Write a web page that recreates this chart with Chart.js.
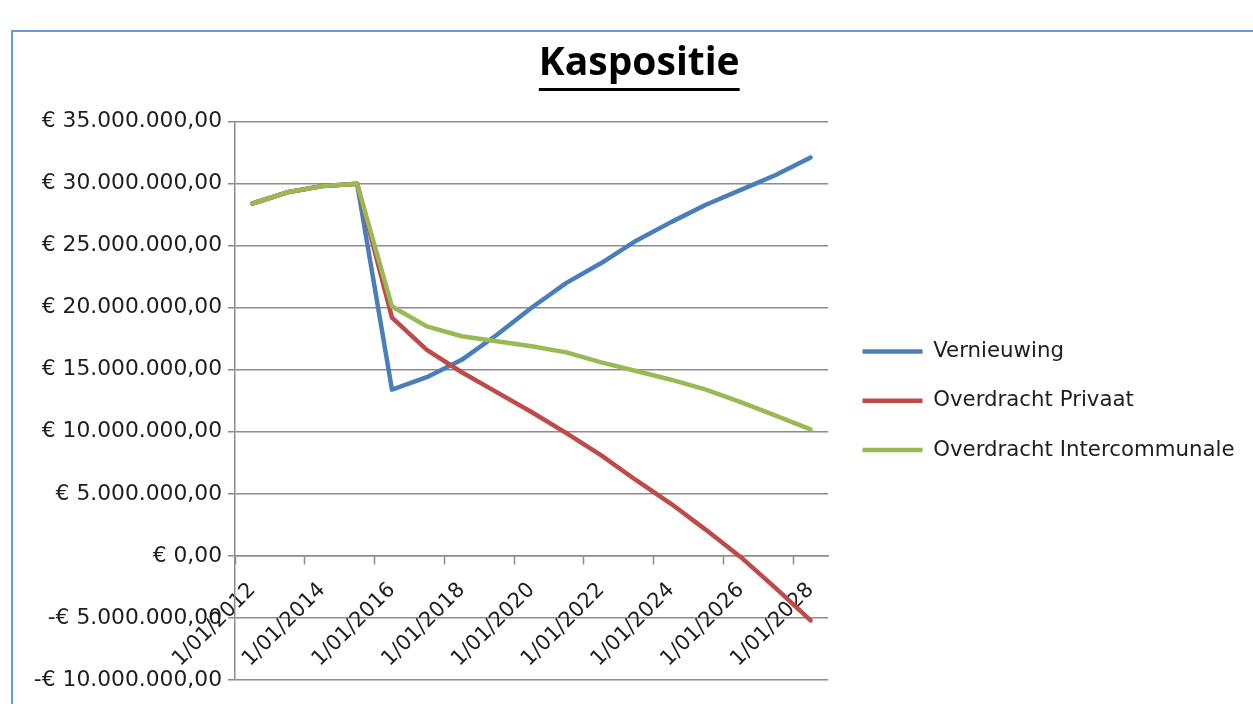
<!DOCTYPE html>
<html>
<head>
<meta charset="utf-8">
<script src="https://cdn.jsdelivr.net/npm/chart.js@4.4.1/dist/chart.umd.min.js"></script>
<style>
  html, body { margin: 0; padding: 0; background: #fff; }
  #wrap { width: 1253px; height: 704px; }
</style>
</head>
<body>
<div id="wrap"><canvas id="kasChart"></canvas></div>
<script>
const titel = 'Kaspositie';
const years = [2012, 2013, 2014, 2015, 2016, 2017, 2018, 2019, 2020, 2021, 2022, 2023, 2024, 2025, 2026, 2027, 2028];
const categories = years.map(y => '1/01/' + y);

// kaspositie in euro per jaar
const vernieuwing    = [28400000, 29300000, 29800000, 30000000, 13400000, 14400000, 15800000, 17800000, 20000000, 22000000, 23600000, 25400000, 26900000, 28300000, 29500000, 30700000, 32100000];
const privaat        = [28400000, 29300000, 29800000, 30000000, 19200000, 16600000, 14800000, 13200000, 11600000, 9900000, 8100000, 6100000, 4200000, 2100000, -100000, -2600000, -5200000];
const intercommunale = [28400000, 29300000, 29800000, 30000000, 20100000, 18500000, 17700000, 17300000, 16900000, 16400000, 15600000, 14900000, 14200000, 13400000, 12400000, 11300000, 10200000];

const yMin = -10000000;
const yMax = 35000000;
const yStep = 5000000;

const grey = '#8c8c8c';
const font = '"DejaVu Sans", "Open Sans", sans-serif';
const titleFont = '"Open Sans", "Noto Sans", sans-serif';

function euro(v) {
    const s = String(Math.abs(Math.round(v))).replace(/\B(?=(\d{3})+(?!\d))/g, '.');
    return (v < 0 ? '-' : '') + '€ ' + s + ',00';
}

// blauwe rand links en boven, zoals in excel
const frame = {
    id: 'frame',
    beforeDraw(chart) {
        const ctx = chart.ctx;
        ctx.save();
        ctx.strokeStyle = '#7299d3';
        ctx.lineWidth = 2;
        ctx.beginPath();
        ctx.moveTo(12, 704);
        ctx.lineTo(12, 31);
        ctx.lineTo(1253, 31);
        ctx.stroke();
        ctx.restore();
    }
};

// chart.js kent geen onderstreepte titel
const underline = {
    id: 'underline',
    afterDraw(chart) {
        const tb = chart.titleBlock;
        const ctx = chart.ctx;
        ctx.save();
        ctx.font = 'bold 39px ' + titleFont;
        const w = ctx.measureText(titel).width;
        const cx = (tb.left + tb.right) / 2;
        const y = tb.top + 40 + 46.8 / 2 + 26;
        ctx.strokeStyle = '#000';
        ctx.lineWidth = 3;
        ctx.beginPath();
        ctx.moveTo(cx - w / 2, y);
        ctx.lineTo(cx + w / 2, y);
        ctx.stroke();
        ctx.restore();
    }
};

const line = (label, data, color, order) => ({
    label: label,
    data: data,
    borderColor: color,
    backgroundColor: color,
    borderWidth: 4.5,
    borderCapStyle: 'round',
    borderJoinStyle: 'round',
    pointRadius: 0,
    tension: 0,
    order: order
});

new Chart(document.getElementById('kasChart'), {
    type: 'line',
    data: {
        labels: categories,
        datasets: [
            line('Vernieuwing', vernieuwing, '#4a7ebb', 3),
            line('Overdracht Privaat', privaat, '#be4b48', 2),
            line('Overdracht Intercommunale', intercommunale, '#98b954', 1)
        ]
    },
    options: {
        responsive: true,
        maintainAspectRatio: false,
        animation: false,
        events: [],
        layout: { padding: { left: 34, right: 8.5, top: 0, bottom: 24 } },
        plugins: {
            title: {
                display: true,
                text: titel,
                color: '#000',
                font: { family: titleFont, size: 39, weight: 'bold' },
                padding: { top: 40, bottom: 34.8 }
            },
            legend: {
                position: 'right',
                fullSize: false,
                maxWidth: 500,
                labels: {
                    color: '#1e1e1e',
                    font: { family: font, size: 21.3 },
                    usePointStyle: true,
                    pointStyle: 'line',
                    pointStyleWidth: 60,
                    padding: 28,
                    sort: (a, b) => a.datasetIndex - b.datasetIndex
                }
            },
            tooltip: { enabled: false }
        },
        scales: {
            x: {
                type: 'category',
                position: { y: 0 },
                offset: true,
                grid: {
                    offset: true,
                    drawOnChartArea: false,
                    tickLength: 8,
                    tickWidth: 1.5,
                    tickColor: c => c.index % 2 === 0 ? grey : 'rgba(0,0,0,0)'
                },
                border: { color: grey, width: 1.5 },
                ticks: {
                    autoSkip: false,
                    minRotation: 45,
                    maxRotation: 45,
                    labelOffset: 0,
                    padding: 14,
                    color: '#1e1e1e',
                    font: { family: font, size: 21 },
                    callback: function (v, i) { return i % 2 === 0 ? this.getLabelForValue(v) : ''; }
                }
            },
            y: {
                min: yMin,
                max: yMax,
                afterFit(scale) { scale.width = 201; },
                grid: { color: grey, lineWidth: 1.5, tickLength: 7, tickColor: grey },
                border: { color: grey, width: 1.5 },
                ticks: {
                    stepSize: yStep,
                    padding: 6,
                    color: '#1e1e1e',
                    font: { family: font, size: 21.8 },
                    callback: v => euro(v)
                }
            },
            gap: {
                position: 'right',
                display: true,
                afterFit(scale) { scale.width = 6.5; },
                grid: { display: false },
                border: { display: false },
                ticks: { display: false }
            }
        }
    },
    plugins: [frame, underline]
});
</script>
</body>
</html>
